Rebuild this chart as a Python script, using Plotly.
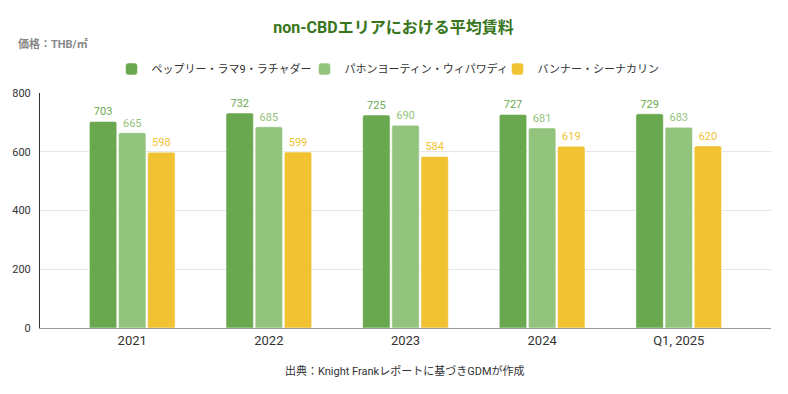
import plotly.graph_objects as go

categories = ["2021", "2022", "2023", "2024", "Q1, 2025"]
series_names = ["ペップリー・ラマ9・ラチャダー", "パホンヨーティン・ウィパワディ", "バンナー・シーナカリン"]
s1 = [703, 732, 725, 727, 729]
s2 = [665, 685, 690, 681, 683]
s3 = [598, 599, 584, 619, 620]
colors = ["#6aa84f", "#93c47d", "#f1c232"]
y_ticks = [0, 200, 400, 600, 800]

FONT = "Roboto, 'Noto Sans CJK JP', sans-serif"

fig = go.Figure()
for name, vals, col in zip(series_names, [s1, s2, s3], colors):
    fig.add_trace(go.Bar(
        x=categories, y=vals, name=name,
        marker=dict(color=col, line=dict(color="rgba(255,255,255,0.5)", width=1), cornerradius=2),
        text=[str(v) for v in vals], textposition="outside",
        textfont=dict(color=col, size=11, family=FONT),
        cliponaxis=False,
    ))

fig.update_layout(
    width=788, height=394,
    margin=dict(l=32, r=25, t=85, b=74, autoexpand=False),
    paper_bgcolor="white", plot_bgcolor="white",
    font=dict(family=FONT, color="#333333"),
    barmode="group", bargap=0.36, bargroupgap=0.06,
    title=dict(text="<b>non-CBDエリアにおける平均賃料</b>", x=385.5 / 788, xref="container", xanchor="center",
               y=1 - 19 / 394, yref="container", yanchor="middle",
               font=dict(size=16, color="#38761d", family=FONT)),
    legend=dict(orientation="h", x=393 / 788, xref="container", xanchor="center",
                y=1 - 61 / 394, yref="container", yanchor="middle", entrywidth=148,
                font=dict(size=11, color="#333333", family=FONT), itemclick=False),
    xaxis=dict(type="category", range=[-0.675, 4.675], showgrid=False,
               showline=True, linecolor="#999999", linewidth=1,
               tickfont=dict(size=13, color="#333333", family=FONT), ticks=""),
    yaxis=dict(range=[0, 800], tickvals=y_ticks, showgrid=True, gridcolor="#e6e6e6",
               showline=True, linecolor="#333333", linewidth=1, zeroline=False,
               tickfont=dict(size=11, color="#333333", family=FONT), ticks="", ticklabelstandoff=6),
    annotations=[
        dict(text="<b>価格：THB/㎡</b>", xref="paper", yref="paper", x=-0.0328, y=1 + 49 / 235,
             xanchor="left", yanchor="middle", showarrow=False,
             font=dict(size=11, color="#888888", family=FONT)),
        dict(text="出典：Knight Frankレポートに基づきGDMが作成", xref="paper", yref="paper",
             x=0.4993, y=-43 / 235, xanchor="center", yanchor="middle", showarrow=False,
             font=dict(size=11, color="#333333", family=FONT)),
    ],
)

fig.write_html("out.html")
